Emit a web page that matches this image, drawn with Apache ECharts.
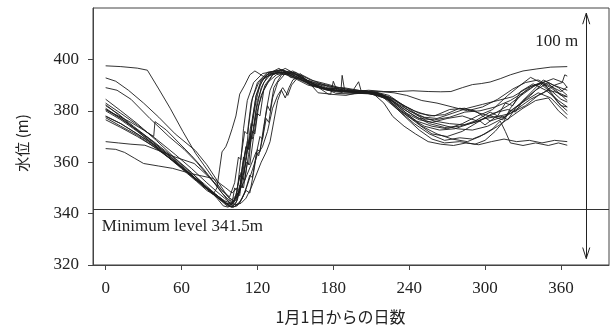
<!DOCTYPE html>
<html>
<head>
<meta charset="utf-8">
<script src="https://cdn.jsdelivr.net/npm/echarts@6/dist/echarts.min.js"></script>
<style>
  html, body { margin: 0; padding: 0; background: #fff; }
  #chart { width: 616px; height: 330px; }
</style>
</head>
<body>
<div id="chart"></div>
<script>
// ── tick labels ──
const xTicks = [0, 60, 120, 180, 240, 300, 360];
const yTicks = [320, 340, 360, 380, 400];

// ── annotations ──
const minLevel = 341.5;
const arrowDay = 380;
const arrowLow = 322.5;
const arrowHigh = 418;
const headHalfDays = 2.8;
const headDepth = 4.3;

// ── yearly water level traces: [day, level m] ──
const s01 = [[0,397.5],[12,397.2],[25,396.6],[33,395.8],[42,388.5],[51,381],[61,372],[71,363.5],[84,354.5],[92,349],[98,346.5],[102,352],[105,362],[107,361],[109,373],[112,384],[117,391],[124,394.5],[135,395.5],[148,393],[160,390],[172,388.5],[185,387.8],[198,387.5],[210,387],[222,385.5],[232,382],[244,378],[256,375],[268,373.5],[280,374],[292,376],[304,379.5],[310,378],[316,383],[322,382],[328,387.5],[338,390.5],[348,388],[358,384],[365,381.5]];
const s02 = [[0,392.8],[8,391.5],[18,388],[30,383],[42,377.5],[55,371],[71,364.5],[80,359],[88,353],[94,348.5],[99,345],[103,347],[106,355],[108,353.5],[110,362],[112,368],[114,367],[116,376],[119,386],[123,392],[130,395],[140,395.8],[146,393],[152,392.5],[165,390.5],[178,389.5],[190,388.5],[202,387.8],[214,387],[224,384],[236,379],[248,374.5],[258,371],[270,370],[282,372],[294,375.5],[306,379],[318,380.5],[324,379.5],[330,384],[340,388],[350,391],[358,389],[365,386]];
const s03 = [[0,389],[9,388],[20,384.5],[35,377],[50,370],[62,365],[72,360],[84,353],[92,348],[97,345.5],[101,344],[104,349],[106,348],[108,358],[111,366],[113,365],[116,375],[119,384],[122,390],[127,394],[137,396.5],[145,394],[150,393],[154,394.5],[160,390.5],[175,388],[188,387],[200,386.8],[212,386.5],[222,385],[230,381],[240,377.5],[252,374],[264,372.5],[276,373],[288,375],[300,377],[312,378],[318,376.5],[324,381],[336,386],[346,391],[354,392.5],[362,391],[365,389]];
const s04 = [[0,380.5],[10,378],[20,375.5],[30,372.5],[38,370],[39,375.8],[48,372.5],[58,367.5],[68,362.5],[78,357],[86,352],[92,348],[96,345.5],[100,343],[103,344],[106,350],[109,362],[111,361],[113,374],[116,385],[121,391],[128,394],[138,396],[150,394.5],[163,390],[176,388],[186,387.5],[187,393.8],[189,387.8],[200,387],[212,387.5],[224,386],[236,382],[248,378],[260,376],[272,375],[284,374.5],[296,376],[300,374.5],[308,377.5],[314,376.5],[320,380],[332,384],[342,387],[352,385],[360,381],[365,378.5]];
const s05 = [[0,384.5],[12,380],[25,375],[40,368.5],[55,361.5],[68,356],[80,350],[88,346],[93,343],[97,342.5],[100,344],[102,350],[104,349],[107,362],[110,372],[112,371],[115,383],[120,391],[128,395],[140,396],[152,393],[165,391],[175,390],[185,388.5],[194,387.5],[205,387.8],[218,386.5],[228,383],[238,379],[248,376.5],[258,375.5],[270,377],[282,378],[294,376],[306,378.5],[318,382],[330,386.5],[340,390],[348,391.5],[356,388],[365,384]];
const s06 = [[0,382.4],[10,378.5],[22,373.5],[35,368],[48,362.5],[60,357.5],[72,352.5],[80,349],[85,347.5],[88,350],[90,357],[92,364],[95,366],[97,368.5],[100,373],[103,378],[106,386.5],[110,390],[114,394],[118,395.5],[126,393],[134,394.5],[145,394],[158,391],[170,389],[182,388],[195,387.5],[208,387.5],[220,386],[232,383],[244,380],[256,378],[268,378.5],[280,381],[292,380],[304,376],[316,378],[328,383],[338,388],[346,392],[354,390],[365,388]];
const s07 = [[0,382],[10,378.8],[22,374],[35,369],[48,363.5],[60,358],[72,353],[82,349],[90,345.5],[96,343],[100,342.5],[104,345],[107,351],[109,350],[112,360],[114,359],[117,370],[120,379],[122,378],[125,388],[132,394],[142,396.5],[155,393],[168,389.5],[182,388],[195,387.5],[200,391.3],[202,387.8],[215,387],[228,384.5],[240,380],[252,377.5],[262,377],[274,379],[286,381],[298,382.5],[310,384],[322,385.5],[334,389],[344,391],[352,389],[360,386],[365,385.4]];
const s08 = [[0,381],[12,377],[25,372.5],[38,367.5],[52,362],[65,356.5],[78,350.5],[87,347],[93,344.5],[98,343],[102,342.8],[106,344],[110,348],[114,355],[116,354],[119,363],[122,370],[124,369],[127,380],[130,388],[134,392.5],[141,395],[150,394],[162,391],[175,388.5],[188,387.5],[200,387],[212,386.8],[224,384],[236,378],[248,372.5],[258,369],[268,367.5],[280,368],[292,367],[300,368.5],[308,372],[315,376],[320,381],[328,386],[336,389.5],[346,391],[354,386],[360,382],[365,381.5]];
const s09 = [[0,380],[12,376.5],[25,372],[38,367],[50,362],[62,357],[75,351.5],[85,347.5],[92,345],[97,343.5],[101,345],[105,348],[110,353],[115,359],[119,364],[121,362.5],[124,369],[127,377],[129,375.5],[132,385],[136,391],[142,394.5],[150,395],[162,392],[174,390.5],[185,389],[198,387.5],[210,386.5],[222,385],[234,380],[246,376],[258,374],[270,373],[282,375],[294,378],[306,380.5],[318,386],[328,390],[336,393],[344,391],[352,388],[360,384.5],[365,383.4]];
const s10 = [[0,378],[12,375],[25,371],[38,366.5],[52,361],[65,356],[78,351],[88,347],[95,344],[100,342.5],[104,343],[108,346],[112,351],[116,357],[120,363],[124,366],[128,372],[132,381],[136,386],[140,389],[144,386],[147,390],[152,393],[162,391.5],[175,389],[188,388],[200,387.5],[212,387],[224,385.5],[236,382],[248,379],[260,378],[272,380.5],[284,381],[296,379],[308,377.5],[320,379],[332,382],[342,386],[350,388],[358,387],[365,385.5]];
const s11 = [[0,377.3],[12,374],[25,370.5],[38,366],[52,361],[66,355.5],[78,350.5],[88,346.5],[95,344],[100,343.5],[104,346],[107,351],[111,360],[113,359],[115,369],[119,378],[123,386],[128,391],[135,394],[145,395.5],[157,392.5],[170,389],[183,387.8],[196,387.5],[208,388],[220,387.5],[231,387.5],[243,387.8],[255,387.5],[265,387.4],[273,387.5],[282,389],[290,390.2],[297,390.6],[304,391.2],[312,392.5],[320,394],[330,395.5],[341,396.3],[352,397],[365,397.2]];
const s12 = [[0,376.5],[12,373.5],[25,370],[40,365.5],[55,360],[68,355],[80,350],[88,347],[94,345],[99,344],[103,345.5],[106,351],[108,350],[111,361],[114,370],[116,369],[119,380],[123,389],[128,393.5],[135,395],[146,394.5],[158,391.5],[170,389.5],[182,386.8],[194,386.5],[206,387],[218,386],[230,383],[242,379.5],[254,376],[266,374.5],[278,373],[290,372.5],[302,374],[314,377],[326,381],[336,384.5],[346,387],[355,390],[361,391],[363,394],[365,393.5]];
const s13 = [[0,368],[10,367.5],[20,367],[31,366.6],[42,364.5],[55,362],[70,359.5],[80,355],[86,352],[92,349],[97,346.5],[101,345],[105,347],[108,354],[110,353],[113,363],[116,372],[118,371],[121,382],[126,390],[132,394],[140,395.5],[152,394],[164,390.5],[176,386.5],[190,386],[202,387.3],[214,387],[226,384],[238,379],[250,374],[262,371],[274,369],[286,368],[296,370],[306,373],[312,376],[316,372],[320,367.5],[330,366.5],[340,367.5],[350,366.5],[358,367.5],[365,366.6]];
const s14 = [[0,365.3],[8,365],[15,363.8],[23,361.5],[30,359.5],[42,358.5],[53,357.6],[68,355.5],[85,353.7],[95,350],[100,348],[104,350],[107,356],[109,355],[112,365],[115,375],[117,374],[120,384],[125,391],[131,394.5],[140,395],[150,393.5],[162,390],[175,388.5],[188,387.5],[200,387.2],[212,386.5],[220,383],[227,377.8],[236,374],[245,371],[255,368],[265,367],[275,366.5],[285,367.5],[295,366.8],[305,368],[315,369],[325,368],[335,368.5],[345,367.5],[355,368.5],[365,368]];
const s15 = [[0,383],[12,379],[25,374.5],[40,369],[55,363],[68,357.5],[80,352],[88,348.5],[94,346],[99,344],[103,343.5],[107,344],[111,346],[115,350],[119,355],[123,360],[127,364],[130,368],[133,376],[136,384],[139,388],[142,385],[145,389],[148,392],[155,394],[165,391.5],[178,389],[190,388],[204,387.8],[216,387.5],[228,387],[238,386],[250,384],[262,383],[274,381.5],[286,380],[298,381.5],[310,384.5],[322,388.5],[332,391],[342,392],[352,389.5],[360,387.5],[365,389.3]];
const s16 = [[0,380.5],[12,377],[25,372.5],[38,368],[52,362.5],[65,357],[78,351.5],[86,348],[92,345.5],[97,343],[101,342.5],[106,344.5],[111,349],[114,348],[117,356],[120,365],[122,364],[125,374],[128,382],[130,380],[133,389],[139,394],[148,395.5],[158,392.5],[168,387],[178,386.5],[180,391.5],[183,387.8],[196,387],[208,386.8],[220,385],[232,380],[244,375],[256,371],[268,368.5],[280,369.5],[290,369],[300,371],[310,374],[320,377.5],[330,381],[340,384],[350,385],[358,380],[365,377]];
const s17 = [[0,377.8],[12,375],[25,371],[38,367],[50,362.5],[62,357.5],[74,352.5],[84,348.5],[91,346],[96,344],[100,343.5],[104,348],[106,347],[108,357],[111,366],[113,365],[116,377],[119,386],[124,392],[131,394.5],[140,395],[150,393],[162,390.5],[175,388.5],[188,389],[200,388],[212,386.5],[224,385],[236,380.5],[248,377],[260,376.5],[272,377.5],[284,379.5],[296,380],[308,381.5],[320,384],[330,387],[338,389.5],[344,390.5],[350,388],[358,383],[365,380]];

const traces = [s01, s02, s03, s04, s05, s06, s07, s08, s09, s10, s11, s12, s13, s14, s15, s16, s17];

const serif = '"Liberation Serif", "Times New Roman", serif';
const gothic = '"Noto Sans CJK JP", "Noto Sans", sans-serif';
const ink = '#222';

const chart = echarts.init(document.getElementById('chart'), null, { renderer: 'canvas' });

const series = traces.map(d => ({
  type: 'line',
  data: d,
  showSymbol: false,
  symbol: 'none',
  silent: true,
  lineStyle: { color: '#1c1c1c', width: 0.9 },
}));

// minimum operating level
series.push({
  type: 'line',
  data: [],
  silent: true,
  markLine: {
    silent: true,
    animation: false,
    symbol: ['none', 'none'],
    lineStyle: { color: '#333', width: 1, type: 'solid' },
    label: { show: false },
    data: [{ yAxis: minLevel }],
  },
  markPoint: {
    silent: true,
    animation: false,
    symbol: 'circle',
    symbolSize: 0,
    data: [{
      coord: [-3, 335],
      label: {
        show: true, position: 'right', distance: 0, formatter: 'Minimum level 341.5m',
        fontFamily: serif, fontSize: 17, color: ink,
      },
    }],
  },
});

// 100 m range arrow: shaft plus open V heads at both ends
const seg = (a, b) => [{ coord: a }, { coord: b }];
const tipHigh = [arrowDay, arrowHigh];
const tipLow = [arrowDay, arrowLow];
series.push({
  type: 'line',
  data: [],
  silent: true,
  markLine: {
    silent: true,
    animation: false,
    symbol: ['none', 'none'],
    lineStyle: { color: '#222', width: 1, type: 'solid' },
    label: { show: false },
    data: [
      seg(tipLow, tipHigh),
      seg(tipHigh, [arrowDay - headHalfDays, arrowHigh - headDepth]),
      seg(tipHigh, [arrowDay + headHalfDays, arrowHigh - headDepth]),
      seg(tipLow, [arrowDay - headHalfDays, arrowLow + headDepth]),
      seg(tipLow, [arrowDay + headHalfDays, arrowLow + headDepth]),
    ],
  },
  markPoint: {
    silent: true,
    animation: false,
    symbol: 'circle',
    symbolSize: 0,
    data: [{
      coord: [arrowDay, 407],
      label: {
        show: true, position: 'left', distance: 8, formatter: '100 m',
        fontFamily: serif, fontSize: 17, color: ink,
      },
    }],
  },
});

chart.setOption({
  animation: false,
  backgroundColor: '#fff',
  grid: {
    left: 93, right: 7, top: 8, bottom: 63,
    show: true, borderColor: '#444', borderWidth: 1, containLabel: false,
  },
  xAxis: {
    type: 'value',
    min: -10,
    max: 398,
    name: '1月1日からの日数',
    nameLocation: 'middle',
    nameGap: 44,
    nameTextStyle: { fontFamily: gothic, fontSize: 16, color: ink, padding: [0, 21, 0, 0] },
    axisLine: { show: true, onZero: false, lineStyle: { color: '#444', width: 1 } },
    axisTick: { show: true, inside: false, length: 5, customValues: xTicks, lineStyle: { color: '#444' } },
    axisLabel: { customValues: xTicks, margin: 15, fontFamily: serif, fontSize: 17, color: ink },
    splitLine: { show: false },
  },
  yAxis: {
    type: 'value',
    min: 320,
    max: 420,
    name: '水位 (m)',
    nameLocation: 'middle',
    nameGap: 63,
    nameRotate: 90,
    nameTextStyle: { fontFamily: gothic, fontSize: 15, color: ink, padding: [0, 13, 0, 0] },
    axisLine: { show: true, onZero: false, lineStyle: { color: '#444', width: 1 } },
    axisTick: { show: true, inside: false, length: 5, customValues: yTicks, lineStyle: { color: '#444' } },
    axisLabel: { customValues: yTicks, margin: 14, fontFamily: serif, fontSize: 17, color: ink },
    splitLine: { show: false },
  },
  series: series,
});
</script>
</body>
</html>
